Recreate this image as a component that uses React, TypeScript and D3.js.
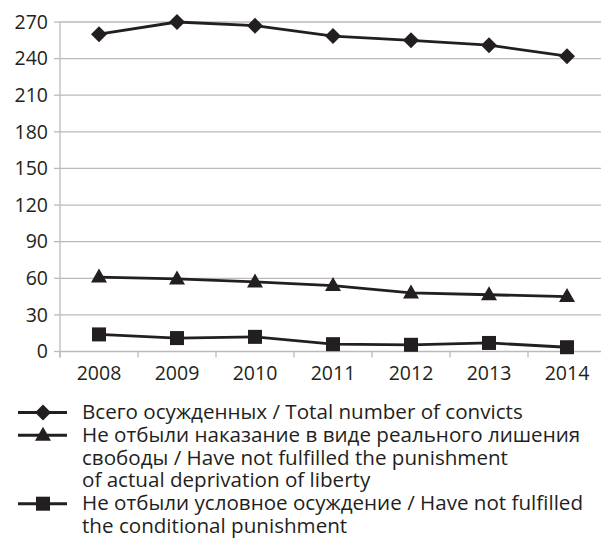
import React from "react";
import * as d3 from "d3";

const years = ["2008", "2009", "2010", "2011", "2012", "2013", "2014"];
const totalConvicts = [260, 270, 267, 258.5, 255, 251, 242];
const notFulfilledReal = [61, 59.5, 57, 54, 48, 46.5, 45];
const notFulfilledConditional = [14, 11, 12, 6, 5.5, 7, 3.5];
const yTicks = [0, 30, 60, 90, 120, 150, 180, 210, 240, 270];

const legendItems = [
  { marker: "diamond", lines: ["Всего осужденных / Total number of convicts"] },
  {
    marker: "triangle",
    lines: [
      "Не отбыли наказание в виде реального лишения",
      "свободы / Have not fulfilled the punishment",
      "of actual deprivation of liberty",
    ],
  },
  {
    marker: "square",
    lines: ["Не отбыли условное осуждение / Have not fulfilled", "the conditional punishment"],
  },
];

const series = [
  { values: totalConvicts, marker: "diamond" },
  { values: notFulfilledReal, marker: "triangle" },
  { values: notFulfilledConditional, marker: "square" },
];

const INK = "#231f20";
const FONT = "'Open Sans', sans-serif";

function Marker({ type, x, y }: { type: string; x: number; y: number }) {
  if (type === "diamond") {
    const r = 8;
    return <path d={`M${x},${y - r}L${x + r},${y}L${x},${y + r}L${x - r},${y}Z`} fill={INK} />;
  }
  if (type === "triangle") {
    return <path d={`M${x},${y - 8.5}L${x + 8},${y + 5.5}L${x - 8},${y + 5.5}Z`} fill={INK} />;
  }
  return <rect x={x - 7} y={y - 7} width={14} height={14} fill={INK} />;
}

export default function App() {
  const left = 60;
  const right = 606;
  const x = d3.scaleBand<string>().domain(years).range([left, right]);
  const y = d3.scaleLinear().domain([0, 270]).range([351.5, 22]);
  const cx = (yr: string) => (x(yr) as number) + x.bandwidth() / 2;
  const line = d3
    .line<number>()
    .x((_, i) => cx(years[i]))
    .y((v) => y(v));

  const boundaries = d3.range(years.length + 1).map((i) => left + i * x.bandwidth());

  let row = 0;
  const rowH = 22.8;
  const firstBase = 419;

  return (
    <svg width={601} height={542} style={{ position: "absolute", left: 0, top: 0, background: "#fff" }}>
      <rect width={601} height={542} fill="#fff" />
      {yTicks.map((t) => (
        <g key={t}>
          <line x1={left} x2={right} y1={y(t)} y2={y(t)} stroke="#bababa" strokeWidth={1.3} />
          <line x1={left - 6} x2={left} y1={y(t)} y2={y(t)} stroke="#bababa" strokeWidth={1.3} />
          <text
            x={48}
            y={y(t)}
            dy="0.35em"
            textAnchor="end"
            fontFamily={FONT}
            fontSize={19.5}
            fill={INK}
          >
            {t}
          </text>
        </g>
      ))}
      <line x1={left} x2={left} y1={y(270)} y2={y(0) + 6} stroke="#bababa" strokeWidth={1.3} />
      {boundaries.map((b, i) => (
        <line key={i} x1={b} x2={b} y1={y(0)} y2={y(0) + 6} stroke="#bababa" strokeWidth={1.3} />
      ))}
      {years.map((yr) => (
        <text key={yr} x={cx(yr)} y={380} textAnchor="middle" fontFamily={FONT} fontSize={19.5} fill={INK}>
          {yr}
        </text>
      ))}
      {series.map((s, si) => (
        <g key={si}>
          <path d={line(s.values) || ""} fill="none" stroke={INK} strokeWidth={2.8} />
          {s.values.map((v, i) => (
            <Marker key={i} type={s.marker} x={cx(years[i])} y={y(v)} />
          ))}
        </g>
      ))}
      {legendItems.map((item, li) => {
        const base = firstBase + row * rowH;
        const cy = base - 6.5;
        const g = (
          <g key={li}>
            <line x1={18} x2={67} y1={cy} y2={cy} stroke={INK} strokeWidth={3} />
            <Marker type={item.marker} x={43} y={cy} />
            <text x={82} y={base} fontFamily={FONT} fontSize={20.6} fill={INK}>
              {item.lines.map((t, k) => (
                <tspan key={k} x={82} dy={k === 0 ? 0 : rowH}>
                  {t}
                </tspan>
              ))}
            </text>
          </g>
        );
        row += item.lines.length;
        return g;
      })}
    </svg>
  );
}
